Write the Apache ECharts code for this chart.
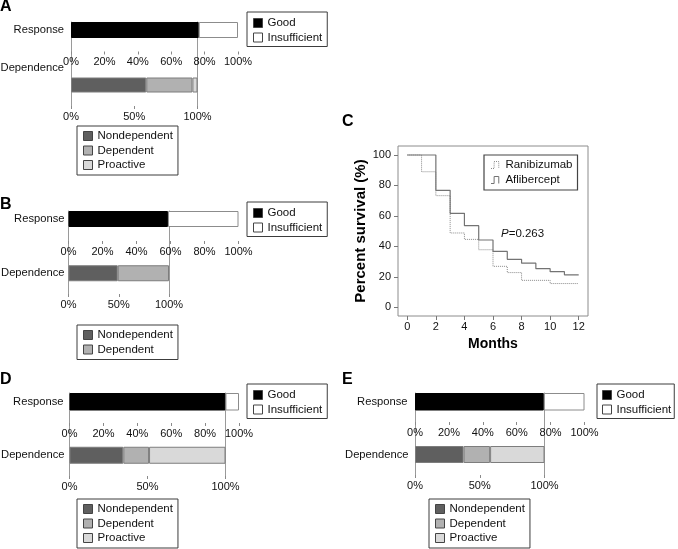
<!DOCTYPE html>
<html><head><meta charset="utf-8">
<script src="https://cdn.jsdelivr.net/npm/echarts@6/dist/echarts.min.js"></script>
<style>html,body{margin:0;padding:0;background:#fff}#c{width:678px;height:549px}</style>
</head><body><div id="c"></div>
<script>
// ---------- DATA ----------
const panelLetters = ['A', 'B', 'C', 'D', 'E'];
const responseCategories = ['Good', 'Insufficient'];
const dependenceCategories3 = ['Nondependent', 'Dependent', 'Proactive'];
const dependenceCategories2 = ['Nondependent', 'Dependent'];
const responseAxisLabel = 'Response';
const dependenceAxisLabel = 'Dependence';

const responseA = [76.5, 23.5];
const dependenceA = [59.5, 36.5, 4];
const responseB = [58.5, 41.5];
const dependenceB = [49, 51];
const responseD = [92, 8];
const dependenceD = [34.5, 16.5, 49];
const responseE = [76, 24];
const dependenceE = [37.5, 20.5, 42];

const ranibizumabMonths = [0, 1, 2, 3, 4, 5, 6, 7, 8, 10, 12];
const ranibizumabSurvival = [100, 89, 73.3, 48.8, 44.6, 37.8, 26.9, 22.8, 17.7, 15.6, 15.6];
const afliberceptMonths = [0, 2, 3, 4, 5, 6, 7, 8, 9, 10, 11, 12];
const afliberceptSurvival = [100, 76.8, 61.7, 53.6, 44.2, 36.7, 31.5, 29, 25.4, 23.4, 21.3, 21.3];
const monthTicks = [0, 2, 4, 6, 8, 10, 12];
const survivalTicks = [0, 20, 40, 60, 80, 100];
const survivalSeriesNames = ['Ranibizumab', 'Aflibercept'];
const pValueText = '=0.263';

// ---------- STYLE ----------
const F = '"Liberation Sans", Arial, Helvetica, sans-serif';
const TXT = '#111';
const LINE = '#9a9a9a';
const TICK = '#8a8a8a';
const CATFS = 11.2;
const respColors = ['#000000', '#ffffff'];
const respBorders = ['#000000', '#8c8c8c'];
const depColors = ['#5f5f5f', '#b1b1b1', '#d9d9d9'];
const depBorder = '#7d7d7d';

const grids = [], xAxes = [], yAxes = [], series = [], legends = [], titles = [];

const legendCommon = {
  orient: 'vertical', itemWidth: 9, itemHeight: 9, itemGap: 2.5, icon: 'rect',
  selectedMode: false, borderColor: '#3c3c3c', borderWidth: 1,
  textStyle: { fontSize: 11.5, color: TXT, fontFamily: F },
  itemStyle: { borderColor: '#444', borderWidth: 1 }
};

function barPanel(p, resp, dep, depNames) {
  const gi = grids.length;
  grids.push({ left: p.x0, top: p.tr, width: p.respW, height: p.hr, outerBoundsMode: 'none', containLabel: false });
  grids.push({ left: p.x0, top: p.tr, width: p.depW, height: p.depAxis - p.tr, outerBoundsMode: 'none', containLabel: false });
  const xi = xAxes.length;
  const axLab = { formatter: '{value}%', margin: 5, fontSize: 11, color: TXT, fontFamily: F };
  xAxes.push({ gridIndex: gi, type: 'value', min: 0, max: 100, interval: 20,
    offset: p.respAxis - (p.tr + p.hr), axisLine: { show: false },
    axisTick: { show: true, length: 3, lineStyle: { color: TICK } },
    splitLine: { show: false }, axisLabel: axLab });
  xAxes.push({ gridIndex: gi + 1, type: 'value', min: 0, max: 100, interval: 50,
    axisLine: { show: false },
    axisTick: { show: true, length: 3, lineStyle: { color: TICK } },
    splitLine: { show: false }, axisLabel: axLab });
  const yi = yAxes.length;
  const slots = [' ', '  ', '   ', dependenceAxisLabel, '    '];
  yAxes.push({ gridIndex: gi, type: 'category', data: [responseAxisLabel],
    axisLine: { show: false }, axisTick: { show: false },
    axisLabel: { margin: p.mr, fontSize: CATFS, color: TXT, fontFamily: F } });
  const depLabel = { interval: 0, margin: p.md, fontSize: CATFS, color: TXT, fontFamily: F };
  if (p.lift) {
    depLabel.formatter = v => (v.trim() ? '{a|' + v + '}\n{b| }' : '');
    depLabel.rich = { a: { fontSize: CATFS, lineHeight: 14, color: TXT, fontFamily: F },
                      b: { fontSize: 4, lineHeight: p.lift } };
  }
  yAxes.push({ gridIndex: gi + 1, type: 'category', data: slots, boundaryGap: false, inverse: true,
    position: 'left',
    axisLine: { show: true, lineStyle: { color: LINE } }, axisTick: { show: false },
    axisLabel: depLabel });
  yAxes.push({ gridIndex: gi + 1, type: 'category', data: slots, boundaryGap: false, inverse: true,
    position: 'right',
    axisLine: { show: true, lineStyle: { color: LINE } }, axisTick: { show: false },
    axisLabel: { show: false } });
  resp.forEach((v, k) => series.push({
    type: 'bar', name: responseCategories[k], xAxisIndex: xi, yAxisIndex: yi,
    stack: 'r' + gi, data: [v], barWidth: p.hr, silent: true,
    itemStyle: { color: respColors[k], borderColor: respBorders[k], borderWidth: 1 }
  }));
  dep.forEach((v, k) => series.push({
    type: 'bar', name: depNames[k], xAxisIndex: xi + 1, yAxisIndex: yi + 1,
    stack: 'd' + gi, data: slots.map((s, j) => (j === 3 ? v : '-')), barWidth: p.hd, silent: true,
    itemStyle: { color: depColors[k], borderColor: depBorder, borderWidth: 1 }
  }));
  legends.push(Object.assign({}, legendCommon, { left: p.l1[0], top: p.l1[1], data: responseCategories,
    padding: p.l1pad || [5, 5, 3, 6] }));
  legends.push(Object.assign({}, legendCommon, { left: p.l2[0], top: p.l2[1], data: depNames,
    padding: [4, 5, 4, 6] }));
  titles.push({ text: p.letter, left: p.lx, top: p.ly, padding: 0,
    textStyle: { fontSize: 16, fontWeight: 'bold', color: '#000', fontFamily: F } });
}

barPanel({ letter: panelLetters[0], lx: 0, ly: -1, x0: 71, respW: 167, depW: 126.5, tr: 22, hr: 16,
  respAxis: 51.5, depAxis: 106, hd: 15, mr: 7, md: 7, lift: 34,
  l1: [247, 12], l2: [77, 126] }, responseA, dependenceA, dependenceCategories3);
barPanel({ letter: panelLetters[1], lx: 0, ly: 197, x0: 68.5, respW: 170, depW: 100.5, tr: 211, hr: 16,
  respAxis: 241, depAxis: 294, hd: 16, mr: 4, md: 4,
  l1: [247, 202], l2: [77, 325] }, responseB, dependenceB, dependenceCategories2);
barPanel({ letter: panelLetters[3], lx: 0, ly: 372, x0: 69.5, respW: 169.5, depW: 156, tr: 393, hr: 17.5,
  respAxis: 423, depAxis: 476, hd: 17, mr: 6, md: 5,
  l1: [247, 384], l2: [77, 499] }, responseD, dependenceD, dependenceCategories3);
barPanel({ letter: panelLetters[4], lx: 342, ly: 372, x0: 415, respW: 169.5, depW: 129.5, tr: 393, hr: 17.5,
  respAxis: 422, depAxis: 475, hd: 17, mr: 7.5, md: 6.5,
  l1: [597, 384], l1pad: [5, 3, 3, 5], l2: [429, 499] }, responseE, dependenceE, dependenceCategories3);

// ---------- Panel C ----------
const cg = grids.length;
grids.push({ left: 398, top: 146, width: 190, height: 170, show: true, outerBoundsMode: 'none', containLabel: false,
  borderColor: '#8c8c8c', borderWidth: 1, backgroundColor: 'rgba(0,0,0,0)' });
const cx = xAxes.length, cy = yAxes.length;
xAxes.push({ gridIndex: cg, type: 'value', min: -0.65, max: 12.65,
  axisLine: { show: false, onZero: false }, splitLine: { show: false },
  axisTick: { show: true, customValues: monthTicks, length: 4, lineStyle: { color: '#777' } },
  axisLabel: { customValues: monthTicks, margin: 5, fontSize: 11, color: TXT, fontFamily: F },
  name: 'Months', nameLocation: 'middle', nameGap: 21,
  nameTextStyle: { fontSize: 14, fontWeight: 'bold', color: '#000', fontFamily: F } });
yAxes.push({ gridIndex: cg, type: 'value', min: -5.7, max: 105.9,
  axisLine: { show: false, onZero: false }, splitLine: { show: false },
  axisTick: { show: true, customValues: survivalTicks, length: 4, lineStyle: { color: '#777' } },
  axisLabel: { customValues: survivalTicks, margin: 7, fontSize: 11, color: TXT, fontFamily: F },
  name: 'Percent survival (%)', nameLocation: 'middle', nameRotate: 90, nameGap: 30,
  nameTextStyle: { fontSize: 15, fontWeight: 'bold', color: '#000', fontFamily: F } });
series.push({ type: 'line', name: survivalSeriesNames[0], xAxisIndex: cx, yAxisIndex: cy,
  step: 'end', showSymbol: false, silent: true,
  data: ranibizumabMonths.map((m, i) => [m, ranibizumabSurvival[i]]),
  lineStyle: { color: '#8a8a8a', width: 1, type: 'dotted' }, itemStyle: { color: '#8a8a8a' } });
series.push({ type: 'line', name: survivalSeriesNames[1], xAxisIndex: cx, yAxisIndex: cy,
  step: 'end', showSymbol: false, silent: true,
  data: afliberceptMonths.map((m, i) => [m, afliberceptSurvival[i]]),
  lineStyle: { color: '#737373', width: 1.2, type: 'solid' }, itemStyle: { color: '#737373' } });
const stepIcon = 'path://M0,9 L4,9 L4,0 L10,0 L10,9';
legends.push({ orient: 'vertical', left: 484, top: 155, itemWidth: 11, itemHeight: 7, itemGap: 3,
  selectedMode: false, borderColor: '#444', borderWidth: 1.2, padding: [4, 5, 4, 6.5],
  textStyle: { fontSize: 11.5, color: TXT, fontFamily: F },
  data: [
    { name: survivalSeriesNames[0], icon: stepIcon,
      itemStyle: { color: 'rgba(0,0,0,0)', borderColor: '#8a8a8a', borderWidth: 1, borderType: 'dotted' } },
    { name: survivalSeriesNames[1], icon: stepIcon,
      itemStyle: { color: 'rgba(0,0,0,0)', borderColor: '#737373', borderWidth: 1, borderType: 'solid' } }
  ] });
titles.push({ text: panelLetters[2], left: 342, top: 114, padding: 0,
  textStyle: { fontSize: 16, fontWeight: 'bold', color: '#000', fontFamily: F } });
titles.push({ text: '{i|P}' + pValueText, left: 501, top: 228, padding: 0,
  textStyle: { fontSize: 11.5, color: TXT, fontFamily: F, fontWeight: 'normal',
    rich: { i: { fontStyle: 'italic', fontSize: 11.5, color: TXT, fontFamily: F } } } });

const chart = echarts.init(document.getElementById('c'), null, { renderer: 'canvas' });
chart.setOption({
  animation: false, backgroundColor: '#fff',
  title: titles, grid: grids, xAxis: xAxes, yAxis: yAxes, series: series, legend: legends
});
</script></body></html>
